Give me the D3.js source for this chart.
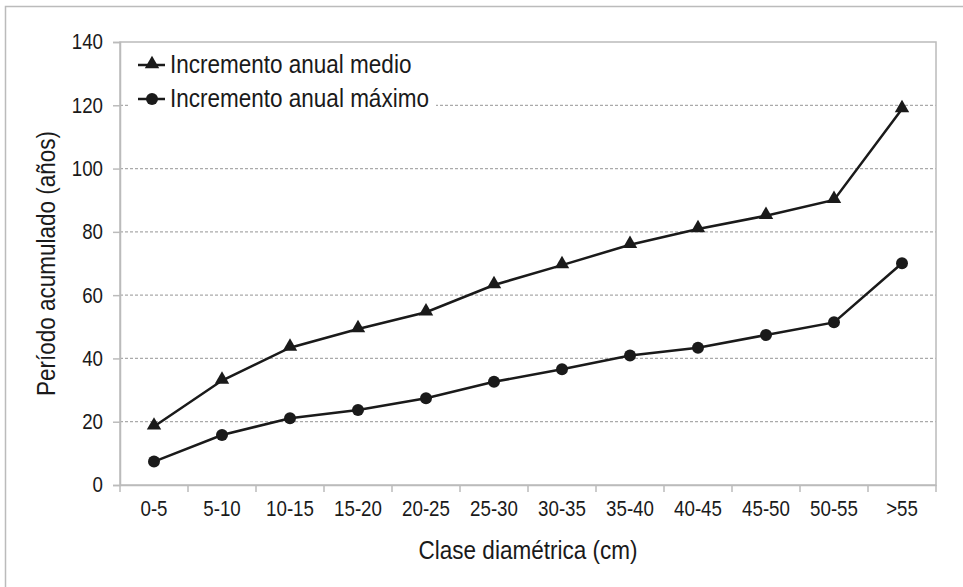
<!DOCTYPE html>
<html>
<head>
<meta charset="utf-8">
<script src="https://cdn.jsdelivr.net/npm/d3@7"></script>
<style>
  body { margin: 0; background: #fff; }
  svg text { font-family: "Liberation Sans", Arial, sans-serif; fill: #1a1a1a; }
</style>
</head>
<body>
<svg id="chart" width="963" height="587"></svg>
<script>
const categories= ['0-5', '5-10', '10-15', '15-20', '20-25', '25-30', '30-35', '35-40', '40-45', '45-50', '50-55', '>55'];
const medio=  [18.5, 33, 43.4, 49.3, 54.6, 63.2, 69.5, 75.9, 80.9, 85.1, 90.1, 118.8];
const maximo= [7.4, 15.8, 21.1, 23.7, 27.4, 32.6, 36.6, 40.9, 43.4, 47.4, 51.4, 70.1];
const yTicks= [0, 20, 40, 60, 80, 100, 120, 140];
const seriesNames= ['Incremento anual medio', 'Incremento anual máximo'];

const svg= d3.select('#chart');
const m= {left: 120, top: 42, right: 936, bottom: 485};

// outer frame
svg.append('rect')
  .attr('x', 5.5).attr('y', 6.5).attr('width', 1000).attr('height', 1000)
  .attr('fill', 'none').attr('stroke', '#bbb').attr('stroke-width', 1.5);

const x= d3.scaleBand().domain(categories).range([m.left, m.right]);
const y= d3.scaleLinear().domain([0, 140]).range([m.bottom, m.top]);

// gridlines
svg.append('g')
  .selectAll('line')
  .data(yTicks.filter(t => t > 0 && t < 140))
  .join('line')
  .attr('x1', m.left).attr('x2', m.right)
  .attr('y1', d => y(d)).attr('y2', d => y(d))
  .attr('stroke', '#aaa').attr('stroke-width', 1.2).attr('stroke-dasharray', '3,2');

// plot frame
svg.append('rect')
  .attr('x', m.left).attr('y', m.top)
  .attr('width', m.right-m.left).attr('height', m.bottom-m.top)
  .attr('fill', 'none').attr('stroke', '#bbb').attr('stroke-width', 1.5);

// y axis
const yAxis= svg.append('g')
  .attr('transform', `translate(${m.left},0)`)
  .call(d3.axisLeft(y).tickValues(yTicks).tickSize(7).tickPadding(10));
yAxis.select('.domain').attr('stroke', '#bbb').attr('stroke-width', 1.5);
yAxis.selectAll('.tick line').attr('stroke', '#bbb').attr('stroke-width', 1.5);
yAxis.selectAll('.tick text').attr('class', 'tk').style('font-size', '21.5px');

// x axis: ticks on category boundaries
const xAxis= svg.append('g')
  .attr('transform', `translate(0,${m.bottom})`)
  .call(d3.axisBottom(x).tickSize(0).tickPadding(16));
xAxis.select('.domain').attr('stroke', '#bbb').attr('stroke-width', 1.5);
xAxis.selectAll('.tick text').attr('class', 'tk').style('font-size', '21.5px');
xAxis.append('g')
  .selectAll('line')
  .data(categories.concat(['__end']))
  .join('line')
  .attr('x1', (d, i) => i < categories.length ? x(d) : x.range()[1])
  .attr('x2', (d, i) => i < categories.length ? x(d) : x.range()[1])
  .attr('y1', 0).attr('y2', 7)
  .attr('stroke', '#bbb').attr('stroke-width', 1.5);

// axis titles
svg.append('text')
  .attr('transform', `translate(55,${(m.top+m.bottom)/2}) rotate(-90)`)
  .attr('text-anchor', 'middle')
  .style('font-size', '25px')
  .text('Período acumulado (años)');
svg.append('text')
  .attr('x', (m.left+m.right)/2).attr('y', 559)
  .attr('text-anchor', 'middle')
  .style('font-size', '25px')
  .text('Clase diamétrica (cm)');

const cx= d => x(d)+x.bandwidth()/2;
const line= d3.line().x((v, i) => cx(categories[i])).y(v => y(v));
const tri= d3.symbol().type(d3.symbolTriangle).size(90);

function drawSeries(vals, marker) {
  const g= svg.append('g');
  g.append('path').attr('d', line(vals))
    .attr('fill', 'none').attr('stroke', '#1a1a1a').attr('stroke-width', 2.5);
  if (marker === 'tri') {
    g.selectAll('path.mk').data(vals).join('path').attr('class', 'mk')
      .attr('d', tri)
      .attr('transform', (v, i) => `translate(${cx(categories[i])},${y(v)-1})`)
      .attr('fill', '#1a1a1a');
  } else {
    g.selectAll('circle').data(vals).join('circle')
      .attr('cx', (v, i) => cx(categories[i])).attr('cy', v => y(v))
      .attr('r', 6).attr('fill', '#1a1a1a');
  }
}
drawSeries(medio, 'tri');
drawSeries(maximo, 'circ');

// legend
const lg= svg.append('g');
lg.append('rect').attr('x', 128).attr('y', 48).attr('width', 308).attr('height', 64).attr('fill', '#fff');
[['tri', 65], ['circ', 99]].forEach(([mk, yy], i) => {
  lg.append('line').attr('x1', 138).attr('x2', 165).attr('y1', yy).attr('y2', yy)
    .attr('stroke', '#1a1a1a').attr('stroke-width', 2.5);
  if (mk === 'tri') {
    lg.append('path').attr('d', tri).attr('transform', `translate(152,${yy-1})`).attr('fill', '#1a1a1a');
  } else {
    lg.append('circle').attr('cx', 152).attr('cy', yy).attr('r', 6).attr('fill', '#1a1a1a');
  }
  lg.append('text').attr('x', 170).attr('y', yy+8).style('font-size', '25px').text(seriesNames[i]);
});

// condensed look: squeeze every label horizontally
svg.selectAll('text').each(function() {
  const k= this.classList.contains('tk') ? 0.87 : 0.9;
  const w= this.getComputedTextLength();
  d3.select(this).attr('textLength', (w*k).toFixed(1)).attr('lengthAdjust', 'spacingAndGlyphs');
});
</script>
</body>
</html>
